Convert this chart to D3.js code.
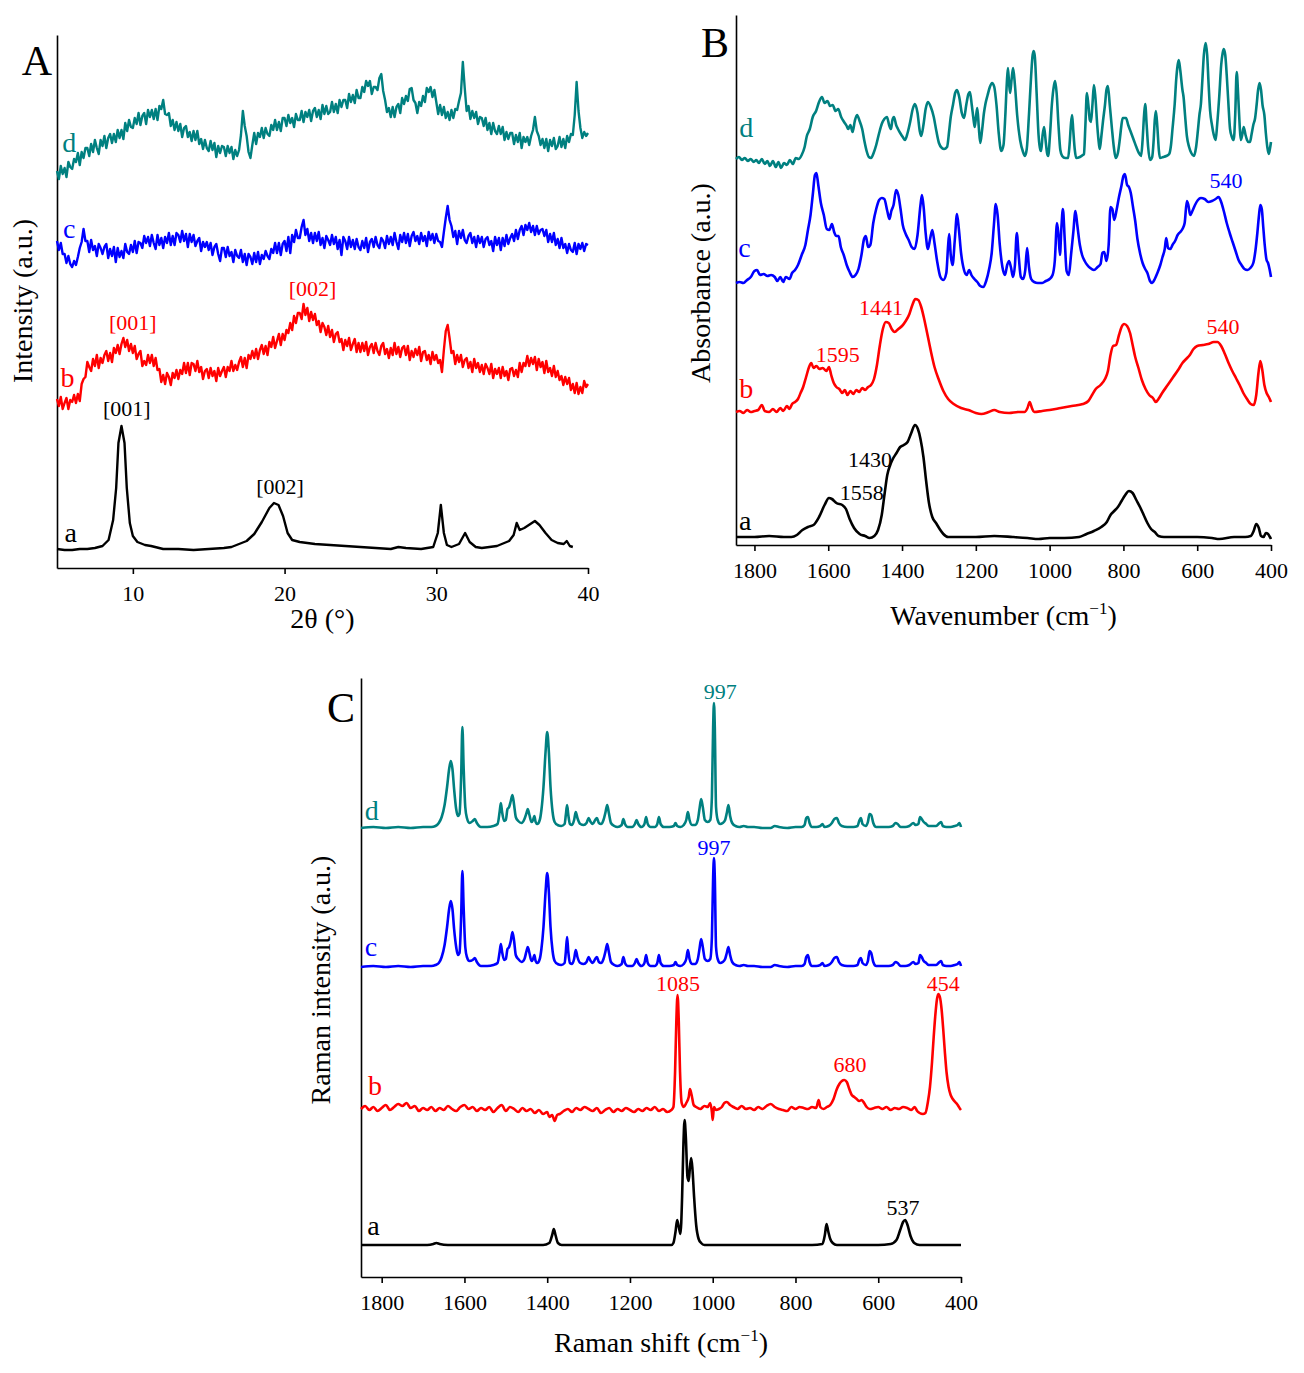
<!DOCTYPE html>
<html lang="en">
<head>
<meta charset="utf-8">
<title>XRD, FTIR and Raman spectra</title>
<style>
  body { margin: 0; background: #fff; }
  svg text { font-family: "Liberation Serif", "Times New Roman", serif; }
  .axis path, .axis line { stroke: #000; stroke-width: 1.6; }
  .axis text { font-size: 22px; fill: #000; }
</style>
</head>
<body>
<div id="container"></div>
<script src="https://cdnjs.cloudflare.com/ajax/libs/d3/7.8.5/d3.min.js"></script>
<script>
// ---------- panel A: XRD (2theta, intensity a.u. with offsets) ----------
var xrdTicks = [10, 20, 30, 40];
// sample a: [2theta, intensity]
var xrdA = [[5,19],[5.5,18],[6,18],[6.5,19],[7,19],[7.5,20],[8,22],[8.4,28],[8.7,48],[8.9,80],[9.05,125],[9.25,142],[9.45,125],[9.6,80],
  [9.8,45],[10,32],[10.3,26],[10.8,23],[11.2,22],[12,19],[13,19],[14,18],[15,19],[16,20],[16.5,21],[17,24],[17.5,27],[18,34],
  [18.5,46],[19,60],[19.3,65],[19.6,63],[19.9,52],[20.2,35],[20.5,28],[21,26],[22,24],[23,23],[24,22],[25,21],[26,20],[27,19],
  [27.5,21],[28,20],[29,19],[29.8,21],[30.1,35],[30.3,63],[30.5,35],[30.7,23],[31,21],[31.5,24],[31.9,35],[32.2,26],[32.6,21],
  [33,20],[34,22],[34.8,27],[35.1,33],[35.3,45],[35.5,38],[35.8,40],[36.2,44],[36.5,47],[36.8,43],[37.2,35],[37.6,28],[38,25],
  [38.4,24],[38.6,27],[38.8,22],[39,21]];
// samples b, c, d: read every 0.125 deg from 5 to 40 (one row per degree)
var xrdStart = 5, xrdStep = 0.125;
var xrdB = [
  169,162,171,159,165,170,159,168, 166,173,165,174,167,184,189,191, 206,201,197,209,202,213,200,210,
  205,213,217,207,215,206,220,215, 223,214,224,230,221,228,217,224, 215,222,209,214,217,202,207,203,
  213,205,213,202,210,198,199,186, 193,184,195,191,183,195,190,198, 189,198,194,205,195,205,193,205,
  204,197,207,196,201,189,197,199, 190,200,192,197,187,200,192,197, 201,191,201,197,207,197,203,198,
  206,211,201,210,200,213,209,217, 210,219,209,218,223,214,222,213, 226,221,231,220,227,234,223,234,
  228,238,235,245,238,252,245,255, 255,249,264,253,260,247,256,248, 254,243,247,236,245,241,233,242,
  231,238,226,234,236,226,229,218, 228,222,230,218,224,229,216,225, 216,225,217,226,213,221,224,215,
  225,217,213,222,225,214,219,210, 220,213,225,214,221,211,220,222, 213,222,208,217,211,219,213,221,
  207,216,217,208,213,204,216,208, 213,205,208,196,218,237,243,230, 215,217,204,213,206,213,201,208,
  210,200,206,196,209,200,205,196, 203,194,204,200,194,204,190,199, 194,200,190,201,192,197,188,199,
  200,192,198,191,205,196,205,202, 212,202,210,204,211,198,209,201, 206,195,207,196,200,192,202,191,
  197,188,192,183,191,184,190,178, 184,175,185,174,181,175,187,181, 184];
var xrdC = [
  327,318,325,314,314,305,312,304, 301,307,303,311,320,326,339,327, 327,316,328,318,322,312,324,320,
  314,321,324,310,319,312,321,306, 320,311,317,310,324,316,314,323, 316,327,315,326,325,320,332,325,
  331,322,333,325,319,333,323,330, 320,331,325,335,323,332,323,335, 333,326,337,327,334,321,334,326,
  333,322,327,330,317,326,321,326, 318,325,313,321,324,314,307,320, 320,311,321,312,316,306,318,312,
  310,318,306,314,303,314,311,304, 315,306,316,304,313,309,317,312, 309,319,315,325,315,325,313,324,
  327,317,331,315,333,326,338,330, 330,341,348,333,339,327,335,325, 335,327,336,323,330,320,332,328,
  323,333,324,331,319,328,313,331, 327,319,331,321,328,319,329,321, 318,327,320,330,316,326,329,321,
  331,323,320,330,327,320,332,324, 331,323,335,326,319,333,326,335, 325,334,322,332,336,327,332,324,
  335,327,332,322,336,328,334,325, 334,327,326,321,336,350,362,348, 342,331,337,324,337,330,338,328,
  325,332,335,325,331,321,332,325, 331,321,329,331,323,327,317,331, 323,330,318,330,322,333,324,330,
  334,327,338,329,338,342,333,343, 338,345,336,342,333,342,334,338, 339,332,338,326,334,326,335,323,
  329,320,330,320,324,315,324,318, 316,325,314,324,319,325,317,324, 323];
var xrdD = [
  397,389,402,394,400,391,406,401, 399,409,406,415,403,416,410,420, 420,412,424,416,428,420,414,428,
  422,432,420,430,434,425,434,426, 438,430,438,429,445,437,448,441, 440,450,444,455,443,452,455,444,
  458,451,458,449,459,448,462,459, 468,454,453,455,442,448,438,446, 437,444,431,440,442,431,436,427,
  437,428,437,424,429,419,428,420, 417,427,418,425,411,422,415,422, 421,412,422,415,421,409,418,412,
  418,433,457,442,432,416,410,423, 435,424,435,431,440,430,440,434, 432,443,438,448,438,446,437,450,
  450,442,453,445,450,441,454,448, 448,457,446,456,451,458,447,457, 460,451,458,449,463,454,462,454,
  456,466,456,464,455,468,461,468, 468,460,474,466,473,465,478,470, 470,481,476,487,482,487,474,481,
  481,478,490,494,477,468,456,460, 451,461,451,461,464,455,470,464, 472,467,479,480,468,465,455,466,
  462,472,466,480,476,481,471,478, 466,454,463,453,461,450,456,448, 458,450,459,458,467,475,506,480,
  457,462,449,457,450,456,444,451, 450,442,450,438,445,434,445,437, 434,442,434,441,428,436,429,435,
  435,424,433,426,435,420,431,426, 431,423,432,438,451,437,432,423, 429,420,429,417,428,422,430,419,
  422,431,421,429,420,432,426,434, 433,453,486,457,440,430,436,432, 435];
// [text, 2theta, intensity, sample]
var xrdNotes = [["[001]", 9.6, 152, "a"], ["[002]", 19.7, 74, "a"], ["[001]", 10.0, 238, "b"], ["[002]", 21.85, 272, "b"]];
var xrdLetters = [["d", 5.8, 416], ["c", 5.8, 330], ["b", 5.7, 181], ["a", 5.9, 26]];

// ---------- panel B: FTIR ----------
var wnTicks = [1800, 1600, 1400, 1200, 1000, 800, 600, 400];
var ftirA = [[1850,8],[1800,8],[1760,9],[1720,8],[1700,8],[1685,10],[1670,15],[1655,18],[1640,20],[1625,28],[1610,40],[1598,47],
  [1590,46],[1578,42],[1562,40],[1552,36],[1542,26],[1530,17],[1515,11],[1500,9],[1488,7],[1475,9],[1465,15],[1455,30],[1447,52],
  [1440,70],[1432,80],[1425,86],[1415,92],[1405,98],[1395,100],[1385,103],[1375,112],[1365,120],[1357,116],[1350,106],[1342,88],
  [1335,65],[1327,42],[1318,28],[1308,22],[1298,16],[1288,11],[1275,8],[1250,8],[1200,8],[1150,9],[1100,8],[1060,7],[1030,6],
  [1000,7],[960,7],[920,8],[900,11],[880,14],[860,18],[845,23],[835,30],[825,34],[815,38],[805,44],[795,50],[785,54],[775,52],
  [765,45],[755,38],[745,30],[735,22],[725,16],[715,13],[705,9],[690,8],[650,8],[600,8],[560,7],[540,6],[500,8],[470,8],[455,9],
  [447,14],[440,21],[433,17],[427,9],[420,8],[414,12],[408,11],[403,8],[400,6]];
var ftirB = [[1850,133],[1840,134],[1830,132],[1820,135],[1810,133],[1800,134],[1790,135],[1780,140],[1772,134],[1760,133],
  [1750,136],[1740,133],[1730,137],[1722,134],[1712,139],[1705,136],[1698,141],[1690,143],[1682,146],[1675,152],[1668,158],
  [1660,168],[1652,178],[1646,182],[1640,177],[1632,179],[1624,176],[1615,177],[1605,174],[1598,178],[1592,170],[1585,162],
  [1578,158],[1570,156],[1562,152],[1555,155],[1548,150],[1540,154],[1532,151],[1524,155],[1516,153],[1508,157],[1500,155],
  [1492,158],[1484,160],[1476,166],[1468,180],[1460,200],[1452,216],[1444,223],[1436,222],[1428,216],[1420,213],[1410,216],
  [1400,219],[1390,224],[1380,231],[1372,240],[1364,246],[1356,245],[1348,238],[1340,226],[1332,212],[1322,194],[1312,178],
  [1300,165],[1288,154],[1275,146],[1260,141],[1240,137],[1220,135],[1200,132],[1185,131],[1165,133],[1150,135],[1135,133],
  [1110,132],[1085,133],[1068,133],[1060,137],[1054,143],[1048,137],[1042,133],[1020,134],[1000,135],[970,137],[940,139],
  [910,141],[895,144],[885,150],[875,156],[862,160],[850,166],[842,174],[835,190],[828,199],[820,200],[812,210],[805,218],
  [798,221],[790,219],[782,212],[775,200],[768,188],[760,178],[750,165],[740,156],[730,150],[720,147],[712,143],[705,146],
  [695,152],[680,160],[665,168],[650,176],[640,182],[630,186],[620,190],[610,196],[600,199],[585,200],[570,201],[555,203],
  [545,203],[535,199],[525,191],[515,182],[505,174],[495,167],[485,160],[475,152],[465,146],[455,141],[447,140],[440,150],
  [434,172],[429,184],[424,176],[418,160],[412,152],[406,148],[400,143]];
var ftirC = [[1850,262],[1840,263],[1830,262],[1820,265],[1810,268],[1800,274],[1793,275],[1785,270],[1775,271],[1765,269],
  [1755,270],[1745,268],[1738,264],[1730,268],[1722,263],[1715,268],[1705,266],[1698,272],[1690,275],[1682,280],[1672,290],
  [1662,300],[1655,315],[1648,330],[1642,350],[1636,370],[1632,372],[1627,360],[1620,342],[1612,330],[1604,316],[1597,315],
  [1590,321],[1584,313],[1578,309],[1572,309],[1566,298],[1558,290],[1550,280],[1542,273],[1534,268],[1526,270],[1518,276],
  [1510,290],[1503,306],[1498,309],[1492,298],[1486,300],[1478,322],[1470,336],[1462,345],[1455,347],[1448,346],[1440,334],
  [1434,326],[1429,334],[1423,340],[1416,355],[1410,350],[1404,336],[1398,320],[1390,311],[1382,305],[1374,298],[1366,296],
  [1358,310],[1350,340],[1346,350],[1341,336],[1336,312],[1330,296],[1324,306],[1318,315],[1312,302],[1305,284],[1296,268],
  [1288,265],[1280,272],[1275,300],[1272,311],[1268,290],[1263,280],[1257,305],[1251,331],[1246,316],[1240,292],[1232,275],
  [1225,270],[1218,275],[1212,270],[1204,266],[1196,263],[1188,259],[1180,258],[1172,264],[1164,276],[1157,292],[1151,320],
  [1146,341],[1141,330],[1135,300],[1128,278],[1121,270],[1115,280],[1110,284],[1105,278],[1099,268],[1094,280],[1089,312],
  [1084,290],[1078,268],[1072,266],[1066,275],[1061,297],[1056,278],[1050,266],[1042,263],[1032,262],[1020,262],[1010,264],
  [1000,266],[992,270],[986,284],[980,322],[976,310],[972,290],[968,318],[964,336],[959,305],[954,274],[948,270],[942,290],
  [936,312],[930,334],[925,320],[918,300],[912,290],[905,284],[898,280],[890,277],[880,275],[870,278],[862,281],[857,292],
  [852,293],[846,284],[840,300],[835,338],[830,336],[825,325],[818,336],[812,348],[806,358],[800,369],[796,371],[790,360],
  [785,358],[780,352],[774,338],[768,324],[762,306],[755,292],[748,282],[741,276],[735,272],[728,264],[722,262],[715,266],
  [708,272],[700,280],[694,288],[688,296],[684,307],[679,297],[673,296],[667,300],[660,304],[653,310],[646,313],[640,316],
  [634,322],[628,344],[624,340],[619,330],[613,334],[606,340],[598,345],[590,347],[580,346],[570,343],[560,344],[550,346],
  [542,348],[535,343],[528,334],[520,322],[512,312],[504,303],[496,294],[488,285],[480,280],[472,276],[464,275],[456,277],
  [448,282],[442,295],[437,312],[433,328],[429,340],[425,336],[421,318],[417,300],[412,285],[408,282],[404,276],[400,268]];
var ftirD = [[1850,386],[1842,388],[1834,385],[1826,387],[1818,384],[1810,386],[1802,383],[1795,385],[1788,382],[1780,386],
  [1772,381],[1765,384],[1758,379],[1750,384],[1742,378],[1735,383],[1728,377],[1720,382],[1712,380],[1704,385],[1696,381],
  [1688,387],[1680,386],[1672,390],[1664,398],[1658,409],[1650,416],[1642,428],[1633,434],[1625,443],[1617,448],[1610,442],
  [1602,444],[1595,439],[1588,440],[1580,434],[1573,436],[1565,428],[1557,423],[1550,419],[1546,416],[1540,420],[1534,413],
  [1528,424],[1522,430],[1515,424],[1508,416],[1502,404],[1496,394],[1490,388],[1484,387],[1477,392],[1470,400],[1462,412],
  [1455,421],[1448,426],[1441,428],[1435,420],[1430,416],[1426,425],[1422,428],[1416,420],[1411,416],[1405,412],[1398,408],
  [1392,405],[1385,412],[1378,423],[1371,436],[1365,441],[1358,432],[1352,414],[1348,409],[1342,420],[1336,436],[1330,443],
  [1322,438],[1314,428],[1307,414],[1300,402],[1292,397],[1286,396],[1278,398],[1272,415],[1268,428],[1262,440],[1256,452],
  [1251,455],[1245,448],[1238,432],[1232,427],[1226,440],[1220,451],[1216,453],[1211,440],[1206,425],[1203,418],[1199,430],
  [1196,437],[1192,418],[1188,402],[1183,415],[1178,432],[1174,441],[1168,450],[1162,458],[1156,462],[1150,458],[1144,440],
  [1138,412],[1131,394],[1125,400],[1120,430],[1116,462],[1113,477],[1110,462],[1107,452],[1103,466],[1099,477],[1094,460],
  [1088,430],[1080,405],[1072,393],[1067,389],[1062,396],[1056,430],[1050,470],[1046,490],[1043,494],[1040,488],[1035,450],
  [1030,410],[1025,395],[1023,394],[1019,410],[1015,418],[1011,405],[1007,392],[1004,389],[999,410],[994,440],[988,460],
  [985,464],[981,452],[976,420],[971,395],[966,389],[958,387],[950,387],[946,400],[942,422],[939,430],[936,415],[932,396],
  [928,387],[918,388],[910,390],[907,391],[903,420],[899,452],[895,440],[891,425],[888,423],[884,440],[880,460],[876,448],
  [871,420],[866,400],[864,396],[860,408],[855,425],[850,440],[846,455],[842,459],[837,440],[831,416],[826,398],[821,387],
  [815,392],[810,405],[806,418],[802,427],[797,427],[793,427],[787,420],[780,413],[772,405],[765,398],[758,392],[752,389],
  [748,405],[744,430],[741,441],[737,420],[733,398],[728,385],[722,388],[718,405],[715,425],[712,434],[708,418],[704,395],
  [701,387],[692,388],[684,389],[676,391],[671,400],[667,416],[663,432],[661,441],[657,465],[653,480],[650,485],[646,475],
  [640,455],[637,448],[633,430],[628,409],[622,398],[616,392],[609,389],[603,398],[598,415],[594,430],[590,441],[586,465],
  [582,490],[577,502],[573,490],[569,460],[565,434],[560,420],[555,410],[550,405],[546,420],[540,450],[535,480],[531,492],
  [528,496],[524,490],[520,470],[516,445],[511,416],[506,408],[501,405],[497,430],[493,473],[489,450],[485,420],[482,405],
  [478,410],[474,418],[469,410],[465,405],[461,403],[457,403],[453,410],[448,420],[443,427],[439,440],[435,455],[431,462],
  [427,455],[423,440],[418,430],[414,412],[410,398],[406,391],[403,396],[400,403]];
var ftirNotes = [["1430", 1487, 78, "a"], ["1558", 1509, 45, "a"], ["1595", 1574, 183, "b"], ["1441", 1457, 230, "b"],
  ["540", 530, 211, "b"], ["540", 522, 357, "c"]];
var ftirLetters = [["d", 1822, 408], ["c", 1827, 288], ["b", 1822, 147], ["a", 1825, 15]];

// ---------- panel C: Raman ----------
var ramanA = [[1850,32],[1800,32],[1760,32],[1720,32],[1690,32],[1675,33],[1668,34],[1660,33],[1640,32],[1600,32],[1550,32],
  [1500,32],[1450,32],[1410,32],[1395,34],[1388,42],[1384,48],[1380,42],[1374,34],[1365,32],[1300,32],[1250,32],[1200,32],
  [1150,32],[1100,32],[1095,34],[1090,45],[1086,57],[1082,50],[1078,43],[1074,80],[1071,130],[1068,157],[1065,140],[1061,100],
  [1058,96],[1055,110],[1052,119],[1049,108],[1045,80],[1040,52],[1034,38],[1028,34],[1020,32],[950,32],[900,32],[850,32],
  [800,32],[760,32],[735,33],[729,42],[725,53],[721,46],[716,38],[710,34],[700,32],[650,32],[600,32],[570,33],[556,37],
  [547,47],[540,55],[535,57],[530,53],[522,41],[513,34],[500,32],[450,32],[400,32]];
var ramanB = [[1850,168],[1840,171],[1830,167],[1820,170],[1810,166],[1800,169],[1790,172],[1780,167],[1770,170],[1760,173],
  [1750,171],[1740,174],[1730,169],[1720,171],[1710,166],[1700,169],[1690,167],[1680,170],[1670,166],[1660,169],[1650,167],
  [1640,171],[1630,168],[1620,166],[1610,170],[1600,172],[1590,168],[1580,170],[1570,166],[1560,169],[1550,167],[1540,170],
  [1530,165],[1520,169],[1510,172],[1500,166],[1490,170],[1480,168],[1470,165],[1460,169],[1450,166],[1440,168],[1430,164],
  [1420,167],[1410,163],[1400,165],[1395,160],[1388,162],[1382,156],[1376,162],[1370,163],[1360,166],[1350,168],[1340,165],
  [1330,169],[1320,167],[1310,170],[1300,168],[1290,166],[1280,169],[1270,164],[1260,167],[1250,169],[1240,165],[1230,168],
  [1220,166],[1210,169],[1200,167],[1190,165],[1180,168],[1170,166],[1160,169],[1150,167],[1140,170],[1130,166],[1120,168],
  [1110,165],[1100,167],[1095,170],[1091,205],[1088,255],[1085,282],[1082,255],[1079,205],[1075,174],[1070,170],[1064,174],
  [1058,180],[1055,188],[1051,182],[1046,172],[1040,170],[1030,168],[1020,171],[1012,170],[1006,174],[1002,165],[1000,157],
  [997,170],[992,167],[985,168],[978,170],[972,174],[966,175],[958,172],[950,170],[940,168],[930,171],[920,168],[910,169],
  [900,167],[890,170],[880,168],[870,171],[860,173],[850,170],[840,168],[830,167],[820,166],[810,170],[800,168],[790,170],
  [780,169],[770,168],[760,170],[750,169],[744,177],[740,170],[732,168],[724,170],[716,172],[708,178],[700,188],[694,193],
  [688,196],[682,197],[676,195],[670,188],[664,182],[658,180],[652,178],[646,176],[640,177],[634,174],[628,170],[620,168],
  [610,169],[600,170],[590,168],[580,170],[570,167],[560,169],[550,168],[540,170],[530,169],[520,167],[512,170],[506,166],
  [500,164],[492,163],[486,164],[480,175],[475,190],[470,215],[466,240],[462,262],[458,278],[455,283],[451,280],[447,268],
  [443,248],[439,225],[435,205],[430,190],[425,182],[420,178],[414,175],[408,172],[402,168],[400,167]];
var ramanC = [[1850,310],[1820,311],[1790,310],[1760,311],[1730,310],[1700,311],[1680,311],[1670,312],[1662,314],[1655,320],
  [1648,332],[1642,350],[1637,368],[1633,376],[1629,368],[1625,348],[1620,330],[1616,322],[1612,324],[1608,360],[1605,406],
  [1602,370],[1598,330],[1594,320],[1588,316],[1580,317],[1575,319],[1570,315],[1560,311],[1545,311],[1530,312],[1520,314],
  [1515,325],[1512,333],[1509,325],[1504,317],[1500,318],[1496,328],[1492,330],[1488,336],[1484,345],[1480,336],[1476,322],
  [1470,318],[1462,315],[1455,318],[1450,326],[1447,330],[1443,324],[1438,316],[1434,318],[1431,322],[1428,316],[1424,314],
  [1418,318],[1414,328],[1409,350],[1404,385],[1400,404],[1396,385],[1392,350],[1387,326],[1382,316],[1375,313],[1366,312],
  [1358,314],[1355,325],[1352,340],[1349,325],[1345,314],[1340,313],[1335,318],[1331,327],[1327,320],[1320,314],[1312,313],
  [1305,315],[1300,320],[1295,316],[1290,314],[1284,318],[1280,320],[1275,315],[1270,314],[1264,318],[1259,326],[1255,333],
  [1251,325],[1246,315],[1238,312],[1230,311],[1220,313],[1216,320],[1212,314],[1205,311],[1195,311],[1188,314],[1184,318],
  [1180,314],[1172,311],[1165,314],[1161,322],[1157,314],[1150,311],[1140,311],[1134,314],[1130,322],[1126,314],[1118,311],
  [1105,311],[1094,312],[1090,315],[1086,312],[1078,311],[1070,313],[1064,318],[1060,327],[1056,318],[1050,313],[1042,313],
  [1036,318],[1032,328],[1028,338],[1024,330],[1019,318],[1012,316],[1006,318],[1002,340],[999,400],[997,419],[995,400],
  [992,330],[988,318],[982,314],[976,315],[970,318],[966,324],[962,330],[958,322],[953,315],[945,312],[935,311],[925,312],
  [915,311],[900,311],[880,310],[860,310],[850,312],[840,311],[820,310],[800,311],[785,311],[778,313],[774,320],[770,322],
  [766,315],[760,311],[750,311],[740,312],[735,314],[730,311],[720,312],[712,315],[706,319],[700,320],[695,315],[688,312],
  [675,311],[660,311],[650,312],[646,317],[642,319],[638,314],[630,312],[625,316],[621,326],[617,324],[612,315],[605,311],
  [590,311],[575,311],[565,312],[558,315],[553,314],[546,311],[535,311],[525,312],[515,315],[510,313],[503,314],[499,322],
  [495,320],[490,316],[484,314],[478,312],[470,312],[460,312],[452,315],[448,316],[444,312],[435,311],[425,311],[415,312],
  [408,313],[404,315],[400,311]];
var ramanD = [[1850,449],[1820,450],[1790,449],[1760,450],[1730,449],[1700,450],[1680,450],[1670,451],[1662,454],[1655,460],
  [1648,472],[1642,490],[1637,508],[1633,516],[1629,508],[1625,488],[1620,468],[1616,461],[1612,463],[1608,500],[1605,550],
  [1602,510],[1598,470],[1594,459],[1588,454],[1580,456],[1575,458],[1570,454],[1560,450],[1545,450],[1530,451],[1520,453],
  [1515,465],[1512,474],[1509,465],[1504,456],[1500,457],[1496,468],[1492,470],[1488,476],[1484,482],[1480,472],[1476,460],
  [1470,456],[1462,454],[1455,458],[1450,464],[1447,468],[1443,462],[1438,455],[1434,457],[1431,461],[1428,455],[1424,453],
  [1418,457],[1414,467],[1409,490],[1404,525],[1400,545],[1396,525],[1392,490],[1387,465],[1382,455],[1375,452],[1366,451],
  [1358,453],[1355,462],[1352,472],[1349,462],[1345,453],[1340,452],[1335,457],[1331,465],[1327,459],[1320,453],[1312,452],
  [1305,454],[1300,459],[1295,455],[1290,453],[1284,457],[1280,459],[1275,454],[1270,453],[1264,457],[1259,465],[1255,472],
  [1251,464],[1246,454],[1238,451],[1230,450],[1220,452],[1216,458],[1212,453],[1205,450],[1195,450],[1188,453],[1184,457],
  [1180,453],[1172,450],[1165,453],[1161,460],[1157,453],[1150,450],[1140,450],[1134,453],[1130,460],[1126,453],[1118,450],
  [1105,450],[1094,451],[1090,454],[1086,451],[1078,450],[1070,452],[1064,457],[1060,465],[1056,457],[1050,452],[1042,452],
  [1036,457],[1032,468],[1028,478],[1024,470],[1019,457],[1012,455],[1006,457],[1002,480],[999,550],[997,574],[995,550],
  [992,470],[988,457],[982,453],[976,454],[970,457],[966,464],[962,472],[958,461],[953,454],[945,451],[935,450],[925,451],
  [915,450],[900,450],[880,449],[860,449],[850,451],[840,450],[820,449],[800,450],[785,450],[778,452],[774,459],[770,460],
  [766,454],[760,450],[750,450],[740,451],[735,453],[730,450],[720,451],[712,454],[706,458],[700,459],[695,454],[688,451],
  [675,450],[660,450],[650,451],[646,456],[642,459],[638,453],[630,451],[625,455],[621,463],[617,462],[612,454],[605,450],
  [590,450],[575,450],[565,451],[558,454],[553,453],[546,450],[535,450],[525,451],[515,454],[510,452],[503,453],[499,460],
  [495,458],[490,455],[484,453],[478,451],[470,451],[460,451],[452,454],[448,455],[444,451],[435,450],[425,450],[415,451],
  [408,452],[404,454],[400,450]];
var ramanNotes = [["997", 982, 578, "d"], ["997", 997, 422, "c"], ["1085", 1084, 286, "b"], ["680", 668, 205, "b"],
  ["454", 443, 286, "b"], ["537", 540, 62, "a"]];
var ramanLetters = [["d", 1824, 457], ["c", 1826, 321], ["b", 1816, 182], ["a", 1820, 42]];

var colors = { a: "#000000", b: "#ff0000", c: "#0000ff", d: "#008080" };

// turn the evenly sampled XRD rows into [2theta, intensity] pairs
function sampled(values) {
  return values.map(function(v, i) { return [xrdStart + i * xrdStep, v]; });
}

var svg = d3.select("#container").append("svg")
  .attr("width", 1304)
  .attr("height", 1373);

function drawPanel(p) {
  var g = svg.append("g");
  var x = d3.scaleLinear().domain(p.xDomain).range(p.xRange);
  var y = d3.scaleLinear().domain(p.yDomain).range(p.yRange);

  g.append("g")
    .attr("class", "axis")
    .attr("transform", "translate(0," + p.yRange[0] + ")")
    .call(d3.axisBottom(x).tickValues(p.ticks).tickSize(6).tickSizeOuter(0).tickPadding(11).tickFormat(d3.format("d")));
  g.append("g")
    .attr("class", "axis")
    .attr("transform", "translate(" + p.xRange[0] + ",0)")
    .call(d3.axisLeft(y).tickValues([]).tickSizeOuter(0));

  var line = d3.line()
    .x(function(d) { return x(d[0]); })
    .y(function(d) { return y(d[1]); })
    .curve(p.curve);

  p.series.forEach(function(s) {
    g.append("path")
      .datum(s.data)
      .attr("d", line)
      .attr("fill", "none")
      .attr("stroke", colors[s.key])
      .attr("stroke-width", p.lineWidth)
      .attr("stroke-linejoin", "round");
  });

  // curve letters a-d
  p.letters.forEach(function(l) {
    g.append("text")
      .attr("x", x(l[1])).attr("y", y(l[2]))
      .attr("text-anchor", "middle")
      .attr("fill", colors[l[0]])
      .style("font-size", "28px")
      .text(l[0]);
  });
  // peak notes
  p.notes.forEach(function(n) {
    g.append("text")
      .attr("x", x(n[1])).attr("y", y(n[2]))
      .attr("text-anchor", "middle")
      .attr("fill", colors[n[3]])
      .style("font-size", "22px")
      .text(n[0]);
  });

  // panel letter
  g.append("text")
    .attr("x", p.tag[1]).attr("y", p.tag[2])
    .attr("text-anchor", "middle")
    .style("font-size", "42px")
    .text(p.tag[0]);

  // axis titles
  var xt = g.append("text")
    .attr("x", (p.xRange[0] + p.xRange[1]) / 2)
    .attr("y", p.yRange[0] + p.xTitleGap)
    .attr("text-anchor", "middle")
    .style("font-size", "28px")
    .text(p.xTitle);
  if (p.xTitleSup) {
    xt.append("tspan").attr("dy", -11).style("font-size", "17px").text(p.xTitleSup);
    xt.append("tspan").attr("dy", 11).text(")");
  }
  g.append("text")
    .attr("transform", "translate(" + p.yTitlePos[0] + "," + p.yTitlePos[1] + ") rotate(-90)")
    .attr("text-anchor", "middle")
    .attr("dy", "0.35em")
    .style("font-size", "28px")
    .text(p.yTitle);
}

drawPanel({
  xDomain: [5, 40], xRange: [57, 588],
  yDomain: [0, 533], yRange: [568, 35],
  ticks: xrdTicks, lineWidth: 2.4, curve: d3.curveLinear,
  series: [
    { key: "a", data: xrdA },
    { key: "b", data: sampled(xrdB) },
    { key: "c", data: sampled(xrdC) },
    { key: "d", data: sampled(xrdD) }
  ],
  letters: xrdLetters, notes: xrdNotes,
  tag: ["A", 37, 75],
  xTitle: "2\u03b8 (\u00b0)", xTitleGap: 60,
  yTitle: "Intensity (a.u.)", yTitlePos: [22, 301]
});

drawPanel({
  xDomain: [1850, 400], xRange: [736, 1271],
  yDomain: [0, 530], yRange: [545, 15],
  ticks: wnTicks, lineWidth: 2.6, curve: d3.curveMonotoneX,
  series: [
    { key: "a", data: ftirA },
    { key: "b", data: ftirB },
    { key: "c", data: ftirC },
    { key: "d", data: ftirD }
  ],
  letters: ftirLetters, notes: ftirNotes,
  tag: ["B", 715, 57],
  xTitle: "Wavenumber (cm", xTitleSup: "\u22121", xTitleGap: 80,
  yTitle: "Absorbance (a.u.)", yTitlePos: [700, 283]
});

drawPanel({
  xDomain: [1850, 400], xRange: [361, 961],
  yDomain: [0, 599], yRange: [1277, 678],
  ticks: wnTicks, lineWidth: 2.6, curve: d3.curveMonotoneX,
  series: [
    { key: "a", data: ramanA },
    { key: "b", data: ramanB },
    { key: "c", data: ramanC },
    { key: "d", data: ramanD }
  ],
  letters: ramanLetters, notes: ramanNotes,
  tag: ["C", 341, 722],
  xTitle: "Raman shift (cm", xTitleSup: "\u22121", xTitleGap: 75,
  yTitle: "Raman intensity (a.u.)", yTitlePos: [320, 980]
});
</script>
</body>
</html>
